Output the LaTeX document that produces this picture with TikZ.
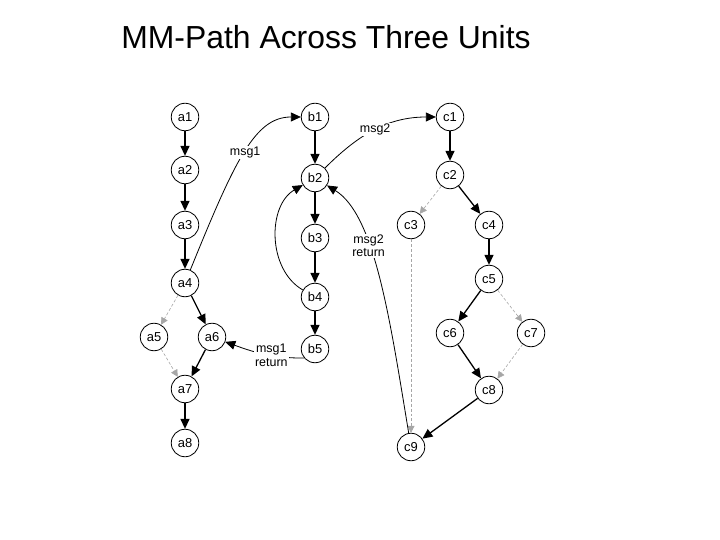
\documentclass[tikz,border=0pt]{standalone}
\usepackage{fontspec}
\setmainfont{Liberation Sans}
\usetikzlibrary{arrows.meta}

\begin{document}
\begin{tikzpicture}[x=1bp,y=-1bp,>={Triangle[length=10bp,width=9bp]},
    unit/.style={circle,draw,line width=0.8bp,minimum size=27.5bp,inner sep=0pt,font=\fontsize{13}{15}\selectfont},
    flow/.style={->,line width=1.3bp},
    alt/.style={-{Triangle[length=7bp,width=7bp]},densely dashed,line width=0.6bp,gray!70},
    msg/.style={->,line width=0.8bp},
    lbl/.style={fill=white,inner sep=1bp,align=center,font=\fontsize{12.5}{13.5}\selectfont}]
    \useasboundingbox (0,0) rectangle (720,540);

    % Title
    \node[font=\fontsize{32}{36}\selectfont] (title) at (326,37) {MM-Path Across Three Units};

    % Unit A
    \node[unit] (a1) at (185,117) {a1};
    \node[unit] (a2) at (185,170) {a2};
    \node[unit] (a3) at (185,225) {a3};
    \node[unit] (a4) at (185,283) {a4};
    \node[unit] (a5) at (154,337) {a5};
    \node[unit] (a6) at (212,337) {a6};
    \node[unit] (a7) at (185,389) {a7};
    \node[unit] (a8) at (185,443) {a8};

    % Unit B
    \node[unit] (b1) at (315,117) {b1};
    \node[unit] (b2) at (315,178) {b2};
    \node[unit] (b3) at (315,238) {b3};
    \node[unit] (b4) at (315,297) {b4};
    \node[unit] (b5) at (315,349) {b5};

    % Unit C
    \node[unit] (c1) at (450,117) {c1};
    \node[unit] (c2) at (450,175) {c2};
    \node[unit] (c3) at (411,225) {c3};
    \node[unit] (c4) at (489,225) {c4};
    \node[unit] (c5) at (489,279) {c5};
    \node[unit] (c6) at (450,333) {c6};
    \node[unit] (c7) at (531,333) {c7};
    \node[unit] (c8) at (489,390) {c8};
    \node[unit] (c9) at (411,447) {c9};

    % Edges inside the units
    \draw[flow] (a1) -- (a2);
    \draw[flow] (a2) -- (a3);
    \draw[flow] (a3) -- (a4);
    \draw[flow] (a4) -- (a6);
    \draw[flow] (a6) -- (a7);
    \draw[flow] (a7) -- (a8);
    \draw[alt] (a4) -- (a5);
    \draw[alt] (a5) -- (a7);

    \draw[flow] (b1) -- (b2);
    \draw[flow] (b2) -- (b3);
    \draw[flow] (b3) -- (b4);
    \draw[flow] (b4) -- (b5);
    \draw[msg] (b4) to[bend left=60] (b2);

    \draw[flow] (c1) -- (c2);
    \draw[flow] (c2) -- (c4);
    \draw[flow] (c4) -- (c5);
    \draw[flow] (c5) -- (c6);
    \draw[flow] (c6) -- (c8);
    \draw[flow] (c8) -- (c9);
    \draw[alt] (c2) -- (c3);
    \draw[alt] (c3) -- (c9);
    \draw[alt] (c5) -- (c7);
    \draw[alt] (c7) -- (c8);

    % Messages between units
    \draw[msg] (a4) .. controls (235,160) and (255,117) .. node[lbl,pos=0.5] {msg1} (b1);
    \draw[msg] (b5.220) to[out=180,in=-20] node[lbl,pos=0.4] {msg1\\return} (a6);
    \draw[msg] (b2) to[out=45,in=180] node[lbl,pos=0.5] {msg2} (c1);
    \draw[msg] (c9) .. controls (390,320) and (375,215) .. node[lbl,pos=0.63] {msg2\\return} (b2);
\end{tikzpicture}
\end{document}
